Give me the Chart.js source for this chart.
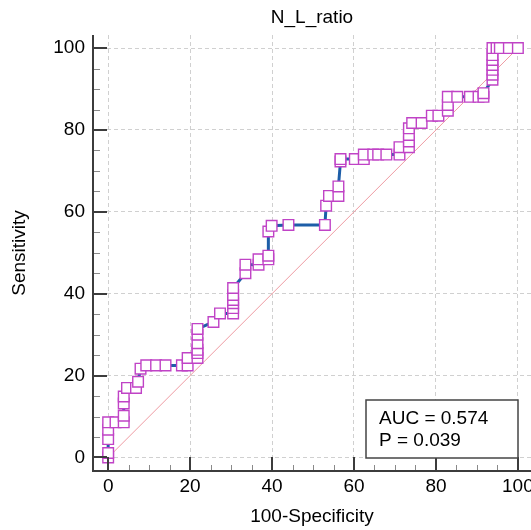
<!DOCTYPE html>
<html>
<head>
<meta charset="utf-8">
<script src="https://cdn.jsdelivr.net/npm/chart.js@4.4.1/dist/chart.umd.min.js"></script>
<style>
  html, body { margin: 0; padding: 0; background: #fff; }
  #roc { display: block; }
</style>
</head>
<body>
<canvas id="roc" width="531" height="530"></canvas>
<script>
const chartTitle = "N_L_ratio";
const xTitle = "100-Specificity";
const yTitle = "Sensitivity";
const statLines = ["AUC = 0.574", "P = 0.039"];

// ROC curve points (100-Specificity, Sensitivity)
const fprValues = [
  0, 0, 0, 0, 0, 1.8, 3.8, 3.8, 3.8, 3.8,
  4.6, 6.8, 7.3, 7.9, 9.3, 11.7, 14.0, 18.0, 19.4, 19.4,
  21.8, 21.8, 21.8, 21.8, 21.8, 21.8, 25.7, 27.3, 30.5, 30.5,
  30.5, 30.5, 30.5, 30.5, 33.5, 33.5, 36.7, 36.7, 39.1, 39.1,
  39.1, 39.9, 44.0, 52.9, 53.2, 53.9, 56.2, 56.2, 56.7, 56.7,
  60.2, 62.4, 62.4, 64.7, 65.9, 67.9, 71.1, 71.1, 73.4, 73.4,
  73.4, 73.4, 74.2, 76.5, 79.0, 80.6, 82.9, 82.9, 82.9, 85.2,
  88.3, 90.4, 91.6, 91.6, 93.8, 93.8, 93.8, 93.8, 93.8, 93.8,
  93.8, 94.8, 95.6, 97.8, 100
];
const sensValues = [
  0, 1.1, 4.5, 6.8, 8.6, 8.6, 8.6, 10.2, 13.2, 14.9,
  17.0, 17.0, 18.5, 21.7, 22.5, 22.5, 22.5, 22.5, 22.5, 24.3,
  24.3, 25.5, 26.3, 27.9, 30.0, 31.4, 33.1, 35.2, 35.2, 36.5,
  37.7, 38.5, 39.7, 41.4, 45.0, 47.1, 47.1, 48.4, 48.4, 49.3,
  55.2, 56.6, 56.8, 56.8, 61.5, 63.9, 63.9, 66.2, 72.3, 72.9,
  72.9, 72.9, 74.0, 74.0, 74.0, 74.0, 74.0, 75.8, 75.8, 77.2,
  78.8, 80.4, 81.7, 81.7, 83.5, 83.5, 84.7, 86.1, 88.1, 88.1,
  88.1, 88.1, 88.1, 89.0, 92.3, 93.5, 94.7, 95.9, 97.1, 98.3,
  100, 100, 100, 100, 100
];

// reference diagonal
const diagX = [0, 100];
const diagY = [0, 100];

const tickValues = [0, 20, 40, 60, 80, 100];
const minorTickValues = [5, 10, 15, 25, 30, 35, 45, 50, 55, 65, 70, 75, 85, 90, 95];

const fontFamily = "'Liberation Sans', Arial, Helvetica, sans-serif";
const axisColor = "#3c3c3c";

const rocPoints = fprValues.map((v, i) => ({ x: v, y: sensValues[i] }));
const diagPoints = diagX.map((v, i) => ({ x: v, y: diagY[i] }));

const setTicks = (scale) => {
  scale.ticks = tickValues.map((v) => ({ value: v }));
};

// axis lines, inward tick marks and the AUC box
const medcalcAxes = {
  id: "medcalcAxes",
  afterDraw(chart) {
    const { ctx, chartArea: area, scales } = chart;
    const x = scales.x;
    const y = scales.y;
    const axisX = area.left;
    const axisY = area.bottom;
    ctx.save();

    ctx.strokeStyle = "#8a8a8a";
    ctx.lineWidth = 1;
    ctx.beginPath();
    minorTickValues.forEach((v) => {
      const px = Math.round(x.getPixelForValue(v)) + 0.5;
      ctx.moveTo(px, axisY);
      ctx.lineTo(px, axisY - 6);
      const py = Math.round(y.getPixelForValue(v)) + 0.5;
      ctx.moveTo(axisX, py);
      ctx.lineTo(axisX + 7, py);
    });
    ctx.stroke();

    ctx.strokeStyle = axisColor;
    ctx.lineWidth = 2;
    ctx.beginPath();
    tickValues.forEach((v) => {
      const px = Math.round(x.getPixelForValue(v));
      ctx.moveTo(px, axisY);
      ctx.lineTo(px, axisY - 14);
      const py = Math.round(y.getPixelForValue(v));
      ctx.moveTo(axisX, py);
      ctx.lineTo(axisX + 14, py);
    });
    ctx.moveTo(axisX, area.top);
    ctx.lineTo(axisX, axisY);
    ctx.lineTo(area.right, axisY);
    ctx.stroke();

    // statistics box
    const boxW = 152, boxH = 58;
    const bx = area.right - 13 - boxW;
    const by = area.bottom - 13 - boxH;
    ctx.fillStyle = "#ffffff";
    ctx.fillRect(bx, by, boxW, boxH);
    ctx.strokeStyle = "#444";
    ctx.lineWidth = 1.5;
    ctx.strokeRect(bx, by, boxW, boxH);
    ctx.fillStyle = "#000";
    ctx.font = "19px " + fontFamily;
    ctx.textAlign = "left";
    ctx.textBaseline = "alphabetic";
    statLines.forEach((t, i) => {
      ctx.fillText(t, bx + 13, by + 24 + i * 22);
    });
    ctx.restore();
  },
};

new Chart(document.getElementById("roc"), {
  type: "scatter",
  data: {
    datasets: [
      {
        data: rocPoints,
        showLine: true,
        borderColor: "#1d5ea8",
        borderWidth: 3,
        tension: 0,
        pointStyle: "rect",
        pointRadius: 7.5,
        pointBorderColor: "#c043c6",
        pointBorderWidth: 1.4,
        pointBackgroundColor: "#ffffff",
      },
      {
        data: diagPoints,
        showLine: true,
        borderColor: "#ee9aa2",
        borderWidth: 1,
        pointRadius: 0,
      },
    ],
  },
  options: {
    responsive: false,
    animation: false,
    devicePixelRatio: 1,
    layout: { padding: 0, autoPadding: false },
    plugins: {
      legend: { display: false },
      tooltip: { enabled: false },
      title: { display: false },
    },
    scales: {
      x: {
        type: "linear",
        position: "bottom",
        min: -3.7,
        max: 103.2,
        afterBuildTicks: setTicks,
        afterFit: (s) => {
          s.height = 59;
          s.paddingLeft = 0;
          s.paddingRight = 0;
        },
        grid: { color: "#d0d0d0", lineWidth: 1, drawTicks: false },
        border: { display: false, dash: [4, 3] },
        ticks: {
          padding: 4,
          color: "#000",
          maxRotation: 0,
          autoSkip: false,
          font: { size: 19, family: fontFamily },
        },
        title: {
          display: true,
          text: xTitle,
          color: "#000",
          padding: { top: 0, bottom: 2 },
          font: { size: 19, family: fontFamily },
        },
      },
      xTop: {
        type: "linear",
        position: "top",
        afterFit: (s) => {
          s.height = 35;
          s.paddingLeft = 0;
          s.paddingRight = 0;
        },
        grid: { display: false, drawTicks: false },
        border: { display: false },
        ticks: { display: false },
        title: {
          display: true,
          text: chartTitle,
          color: "#000",
          padding: { top: 6, bottom: 0 },
          font: { size: 19, family: fontFamily },
        },
      },
      y: {
        type: "linear",
        position: "left",
        min: -3.3,
        max: 103.2,
        afterBuildTicks: setTicks,
        afterFit: (s) => {
          s.width = 93;
          s.paddingTop = 0;
          s.paddingBottom = 0;
        },
        grid: { color: "#d0d0d0", lineWidth: 1, drawTicks: false },
        border: { display: false, dash: [4, 3] },
        ticks: {
          padding: 8,
          color: "#000",
          autoSkip: false,
          font: { size: 19, family: fontFamily },
        },
        title: {
          display: true,
          text: yTitle,
          color: "#000",
          padding: { top: 8, bottom: 0 },
          font: { size: 19, family: fontFamily },
        },
      },
    },
  },
  plugins: [medcalcAxes],
});
</script>
</body>
</html>
